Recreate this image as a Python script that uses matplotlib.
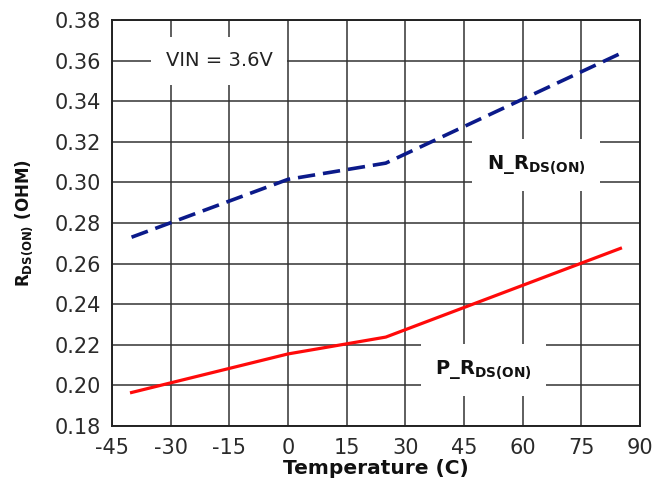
import matplotlib
matplotlib.use('Agg')
import matplotlib.pyplot as plt

plt.rcParams['font.family'] = ['DejaVu Sans']
plt.rcParams['axes.unicode_minus'] = False
plt.rcParams['mathtext.fontset'] = 'custom'
plt.rcParams['mathtext.rm'] = 'DejaVu Sans'
plt.rcParams['mathtext.bf'] = 'DejaVu Sans:bold'

# temperature points (C)
tempC = [-40, 0, 25, 85]
# resistance values (ohm)
nRds = [0.273, 0.3015, 0.3095, 0.3635]
pRds = [0.1965, 0.2155, 0.2238, 0.2675]

xTicks = [-45, -30, -15, 0, 15, 30, 45, 60, 75, 90]
yTicks = [0.18, 0.20, 0.22, 0.24, 0.26, 0.28, 0.30, 0.32, 0.34, 0.36, 0.38]

fig = plt.figure(figsize=(6.7, 4.82), dpi=100)
ax = fig.add_axes([112 / 670, 56 / 482, 528 / 670, 406 / 482])

ax.plot(tempC, nRds, color='#0b1a8a', lw=2.6, dashes=(4.8, 2.2), zorder=3)
ax.plot(tempC, pRds, color='#ff0a0a', lw=2.3, zorder=3)

ax.set_xlim(-45, 90)
ax.set_ylim(0.18, 0.38)
ax.set_xticks(xTicks)
ax.set_yticks(yTicks)
ax.set_yticklabels(['%.2f' % v for v in yTicks])
ax.tick_params(length=0, labelsize=15, pad=8, colors='#2a2a2a')
ax.tick_params(axis='x', pad=9)
ax.grid(True, color='#333333', lw=1.1)
ax.set_axisbelow(True)
for s in ax.spines.values():
    s.set_color('#222222')
    s.set_linewidth(1.4)

ax.set_xlabel('Temperature (C)', fontsize=14.5, fontweight='bold', labelpad=0, color='#111111')
ax.set_ylabel(r'R$_{\mathbf{DS(ON)}}$ (OHM)', fontsize=12, fontweight='bold', labelpad=14, color='#111111')

pad = dict(boxstyle='square,pad=0.75', fc='white', ec='none')
ax.text(-17.6, 0.360, 'VIN = 3.6V', fontsize=14, ha='center', va='center',
        color='#222222', bbox=pad, zorder=2)
ax.text(63.5, 0.3085, r'N_R$_{\mathbf{DS(ON)}}$', fontsize=14, fontweight='bold', ha='center',
        va='center', color='#111111', bbox=pad, zorder=2)
ax.text(50, 0.2075, r'P_R$_{\mathbf{DS(ON)}}$', fontsize=14, fontweight='bold', ha='center',
        va='center', color='#111111', bbox=pad, zorder=2)

fig.savefig('out.png', dpi=100)
